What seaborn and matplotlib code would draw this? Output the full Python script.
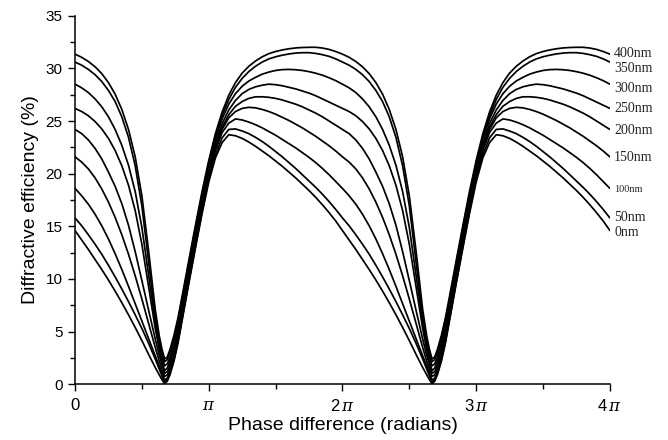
import numpy as np
import pandas as pd
import seaborn as sns
import matplotlib.pyplot as plt
from matplotlib.ticker import MultipleLocator

# phase over one period, in units of pi (the figure repeats every 2*pi)
phase = [0, 0.05, 0.1, 0.15, 0.2, 0.25, 0.3, 0.35, 0.4, 0.45, 0.5, 0.55, 0.6,
         0.63, 0.65, 0.67, 0.69, 0.71, 0.74, 0.77,
         0.8, 0.85, 0.9, 0.95, 1.0, 1.05, 1.1, 1.15, 1.2, 1.25, 1.3, 1.35,
         1.4, 1.45, 1.5, 1.55, 1.6, 1.65, 1.7, 1.75, 1.8, 1.85, 1.9, 1.95]

# diffractive efficiency (%), one list per layer thickness
eff_0nm = [14.6, 13.7, 12.8, 11.85, 10.9, 9.9, 8.85, 7.75, 6.6, 5.4, 4.15, 2.85, 1.6,
           0.9, 0.45, 0.05, 0.3, 0.9, 2.2, 3.9,
           6.0, 9.5, 12.9, 16.2, 19.2, 21.5, 22.95, 23.7, 23.6, 23.35, 23.0, 22.6,
           22.15, 21.7, 21.2, 20.7, 20.15, 19.6, 19.0, 18.4, 17.75, 17.05, 16.3, 15.5]
eff_50nm = [15.8, 15.05, 14.2, 13.3, 12.35, 11.3, 10.2, 9.05, 7.85, 6.6, 5.3, 3.9, 2.4,
            1.45, 0.8, 0.2, 0.45, 1.05, 2.35, 4.05,
            6.15, 9.65, 13.05, 16.4, 19.45, 21.8, 23.4, 24.2, 24.25, 24.05, 23.8, 23.45,
            23.05, 22.6, 22.1, 21.6, 21.05, 20.5, 19.9, 19.3, 18.7, 18.05, 17.35, 16.6]
eff_100nm = [18.6, 17.9, 17.1, 16.15, 15.05, 13.8, 12.4, 10.9, 9.3, 7.65, 6.0, 4.35, 2.7,
             1.75, 1.1, 0.4, 0.6, 1.2, 2.5, 4.2,
             6.3, 9.8, 13.25, 16.6, 19.7, 22.2, 23.9, 24.8, 25.2, 25.1, 24.9, 24.65,
             24.35, 24.0, 23.65, 23.25, 22.85, 22.45, 22.0, 21.55, 21.05, 20.5, 19.9, 19.25]
eff_150nm = [21.6, 21.1, 20.45, 19.6, 18.55, 17.3, 15.85, 14.2, 12.35, 10.3, 8.1, 5.8, 3.5,
             2.2, 1.45, 0.75, 0.9, 1.5, 2.85, 4.55,
             6.65, 10.1, 13.55, 16.85, 19.9, 22.4, 24.2, 25.3, 25.9, 26.2, 26.3, 26.25,
             26.1, 25.9, 25.65, 25.35, 25.05, 24.7, 24.35, 23.95, 23.55, 23.1, 22.65, 22.15]
eff_200nm = [24.2, 23.8, 23.2, 22.4, 21.4, 20.15, 18.8, 17.15, 15.1, 12.6, 9.85, 7.05, 4.3,
             2.75, 1.9, 1.05, 1.2, 1.85, 3.2, 4.9,
             7.0, 10.45, 13.85, 17.1, 20.1, 22.6, 24.4, 25.6, 26.4, 26.85, 27.15, 27.3,
             27.3, 27.25, 27.15, 27.0, 26.8, 26.6, 26.35, 26.05, 25.75, 25.4, 25.0, 24.6]
eff_250nm = [26.2, 25.9, 25.5, 24.95, 24.25, 23.35, 22.2, 20.75, 18.9, 16.5, 13.3, 9.3, 5.3,
             3.3, 2.2, 1.3, 1.55, 2.25, 3.6, 5.3,
             7.35, 10.8, 14.2, 17.45, 20.4, 22.9, 24.75, 26.05, 26.95, 27.6, 28.0, 28.25,
             28.4, 28.5, 28.45, 28.35, 28.2, 28.05, 27.85, 27.65, 27.4, 27.1, 26.8, 26.5]
eff_300nm = [28.5, 28.15, 27.7, 27.1, 26.35, 25.4, 24.2, 22.7, 20.8, 18.3, 14.9, 10.4, 5.9,
             3.75, 2.65, 1.75, 1.95, 2.6, 3.95, 5.65,
             7.7, 11.15, 14.55, 17.8, 20.75, 23.3, 25.2, 26.6, 27.6, 28.3, 28.8, 29.15,
             29.45, 29.65, 29.8, 29.88, 29.9, 29.87, 29.8, 29.69, 29.54, 29.35, 29.11, 28.83]
eff_350nm = [30.6, 30.3, 29.9, 29.4, 28.75, 27.9, 26.85, 25.4, 23.45, 20.75, 16.95, 11.65, 6.4,
             4.2, 3.05, 2.15, 2.35, 3.05, 4.4, 6.05,
             8.05, 11.45, 14.8, 18.05, 21.0, 23.5, 25.5, 27.05, 28.2, 29.05, 29.7, 30.2,
             30.6, 30.9, 31.1, 31.25, 31.37, 31.45, 31.49, 31.49, 31.42, 31.3, 31.14, 30.9]
eff_400nm = [31.35, 31.05, 30.65, 30.15, 29.5, 28.65, 27.55, 26.1, 24.2, 21.6, 17.9, 12.7, 7.1,
             4.6, 3.35, 2.4, 2.6, 3.3, 4.65, 6.3,
             8.3, 11.7, 15.05, 18.3, 21.25, 23.8, 25.85, 27.45, 28.65, 29.55, 30.2, 30.7,
             31.1, 31.4, 31.6, 31.75, 31.86, 31.94, 31.98, 32.0, 32.0, 31.93, 31.8, 31.6]

thickness = ["0nm", "50nm", "100nm", "150nm", "200nm", "250nm", "300nm", "350nm", "400nm"]
curves = [eff_0nm, eff_50nm, eff_100nm, eff_150nm, eff_200nm,
          eff_250nm, eff_300nm, eff_350nm, eff_400nm]

# where the curve names sit at the right end (efficiency %)
label_y = [14.4, 15.8, 18.5, 21.5, 24.1, 26.2, 28.1, 30.0, 31.4]

xtick_labels = ["0", r"$\mathit{\pi}$", r"2$\,\mathit{\pi}$", r"3$\,\mathit{\pi}$", r"4$\,\mathit{\pi}$"]

rows = []
for name, vals in zip(thickness, curves):
    full_phase = phase + [p + 2 for p in phase] + [4.0]
    full_vals = vals + vals + [vals[0]]
    for p, v in zip(full_phase, full_vals):
        rows.append({"phase": p * np.pi, "eff": v, "thickness": name})
df = pd.DataFrame(rows)

sns.set_theme(style="ticks")
plt.rcParams["font.family"] = ["Liberation Sans", "DejaVu Sans"]
plt.rcParams["mathtext.fontset"] = "custom"
plt.rcParams["mathtext.it"] = "DejaVu Serif:italic"
plt.rcParams["mathtext.rm"] = "Liberation Sans"

fig, ax = plt.subplots(figsize=(6.68, 4.40), dpi=100)
fig.subplots_adjust(left=0.1123, right=0.913, bottom=0.1266, top=0.9643)

sns.lineplot(
    data=df,
    x="phase",
    y="eff",
    hue="thickness",
    hue_order=thickness,
    palette=["black"] * len(thickness),
    estimator=None,
    sort=False,
    legend=False,
    lw=1.25,
    ax=ax,
)

for name, y in zip(thickness, label_y):
    ax.annotate(
        name,
        xy=(4 * np.pi, y),
        xytext=(3, 0),
        textcoords="offset points",
        va="center",
        ha="left",
        family="Liberation Serif",
        fontsize=7.5 if name == "100nm" else 10,
        annotation_clip=False,
    )

ax.set_xlim(0, 4 * np.pi)
ax.set_ylim(0, 35)
ax.set_xticks([k * np.pi for k in range(5)])
ax.set_xticklabels(xtick_labels)
ax.xaxis.set_minor_locator(MultipleLocator(np.pi / 2))
ax.yaxis.set_major_locator(MultipleLocator(5))
ax.yaxis.set_minor_locator(MultipleLocator(2.5))

ax.tick_params(which="both", direction="out", width=1.0, color="black",
               labelsize=11, labelcolor="black")
ax.tick_params(axis="x", which="major", labelsize=12, pad=5)
ax.tick_params(which="major", length=5)
ax.tick_params(which="minor", length=3.5)
ax.tick_params(axis="y", which="major", pad=4)

sns.despine(ax=ax)
for side in ["left", "bottom"]:
    ax.spines[side].set_linewidth(1.1)
    ax.spines[side].set_color("black")

ax.set_xlabel("Phase difference (radians)", fontsize=14, color="black")
ax.set_ylabel("Diffractive efficiency (%)", fontsize=14, color="black")
ax.xaxis.set_label_coords(0.5, -0.09)
ax.yaxis.set_label_coords(-0.068, 0.5)

plt.savefig("out.png", dpi=100)
